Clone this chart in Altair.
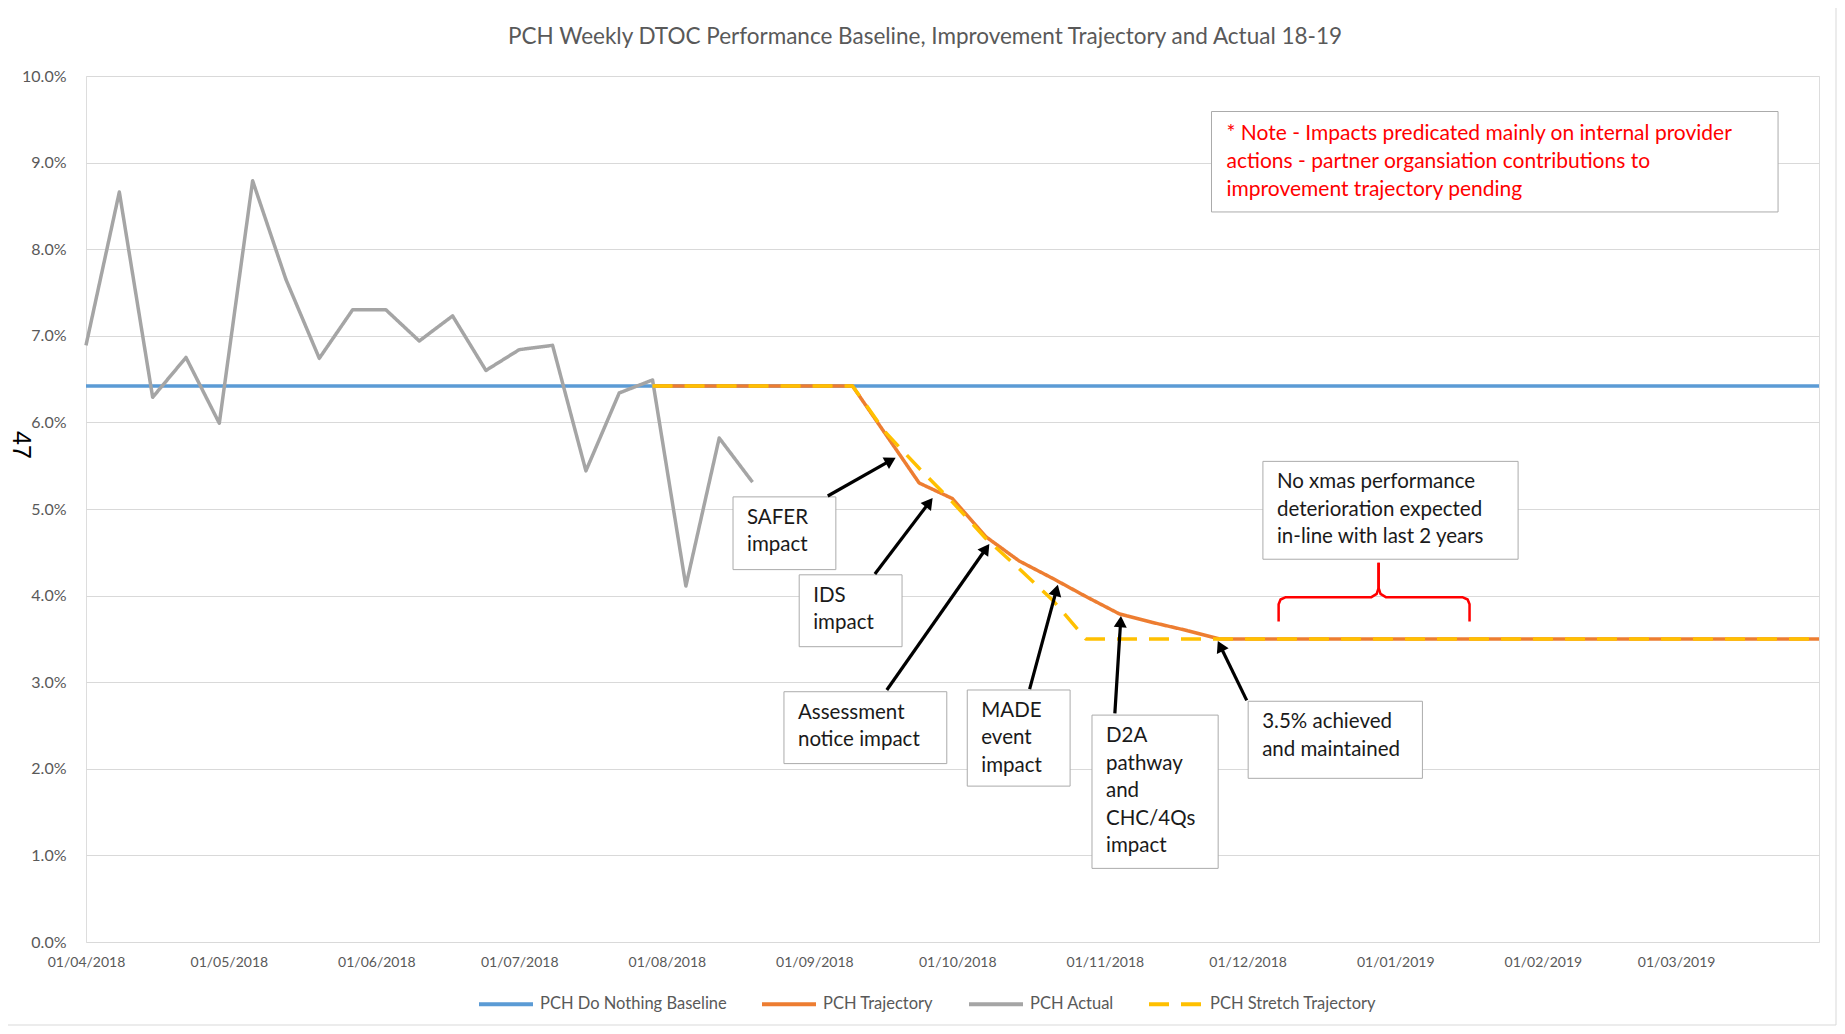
import math
import altair as alt
import pandas as pd

# ---------------- data ----------------
START = pd.Timestamp("2018-04-01")
W, H = 1733, 866            # plot area
DAYS_SPAN = 364             # 01/04/2018 .. 31/03/2019

series_names = ["PCH Do Nothing Baseline", "PCH Trajectory", "PCH Actual", "PCH Stretch Trajectory"]
series_colors = ["#5B9BD5", "#ED7D31", "#A5A5A5", "#FFC000"]
series_dash = [[1, 0], [1, 0], [1, 0], [20, 12]]

baseline_weeks = list(range(0, 53))
baseline_values = [6.42, 6.42, 6.42, 6.42, 6.42, 6.42, 6.42, 6.42, 6.42, 6.42,
                   6.42, 6.42, 6.42, 6.42, 6.42, 6.42, 6.42, 6.42, 6.42, 6.42,
                   6.42, 6.42, 6.42, 6.42, 6.42, 6.42, 6.42, 6.42, 6.42, 6.42,
                   6.42, 6.42, 6.42, 6.42, 6.42, 6.42, 6.42, 6.42, 6.42, 6.42,
                   6.42, 6.42, 6.42, 6.42, 6.42, 6.42, 6.42, 6.42, 6.42, 6.42,
                   6.42, 6.42, 6.42]

actual_weeks = list(range(0, 21))
actual_values = [6.89, 8.66, 6.29, 6.75, 5.99, 8.79, 7.65, 6.74, 7.30, 7.30,
                 6.94, 7.23, 6.60, 6.84, 6.89, 5.44, 6.34, 6.49, 4.11, 5.82, 5.31]

trajectory_weeks = list(range(17, 53))
trajectory_values = [6.42, 6.42, 6.42, 6.42, 6.42, 6.42, 6.42,
                     5.86, 5.30, 5.12, 4.68, 4.40, 4.20, 3.99, 3.79, 3.69, 3.60,
                     3.50, 3.50, 3.50, 3.50, 3.50, 3.50, 3.50, 3.50, 3.50, 3.50,
                     3.50, 3.50, 3.50, 3.50, 3.50, 3.50, 3.50, 3.50, 3.50]

stretch_weeks = list(range(17, 53))
stretch_values = [6.42, 6.42, 6.42, 6.42, 6.42, 6.42, 6.42,
                  5.88, 5.47, 5.08, 4.66, 4.31, 3.95, 3.50,
                  3.50, 3.50, 3.50, 3.50, 3.50, 3.50, 3.50, 3.50, 3.50, 3.50,
                  3.50, 3.50, 3.50, 3.50, 3.50, 3.50, 3.50, 3.50, 3.50, 3.50,
                  3.50, 3.50]

tick_months = [(2018, 4), (2018, 5), (2018, 6), (2018, 7), (2018, 8), (2018, 9),
               (2018, 10), (2018, 11), (2018, 12), (2019, 1), (2019, 2), (2019, 3)]

# annotation boxes (day offset from 01/04/2018, value in %)
box_texts = ["SAFER\nimpact", "IDS\nimpact", "Assessment\nnotice  impact",
             "MADE\nevent\nimpact", "D2A\npathway\nand\nCHC/4Qs\nimpact",
             "3.5% achieved\nand maintained",
             "No xmas performance\ndeterioration expected\nin-line with last 2 years"]
box_left = [135.9, 149.8, 146.6, 185.1, 211.3, 244.1, 247.2]
box_right = [157.5, 171.4, 180.8, 206.7, 237.8, 280.7, 300.8]
box_top = [5.14, 4.24, 2.89, 2.91, 2.62, 2.78, 5.55]
box_bottom = [4.30, 3.41, 2.06, 1.80, 0.85, 1.89, 4.42]

note_text = ["* Note - Impacts predicated mainly on internal provider\nactions - partner organsiation contributions to\nimprovement trajectory pending"]
note_left = [236.4]
note_right = [355.4]
note_top = [9.59]
note_bottom = [8.43]

arrow_start_day = [155.8, 165.7, 168.2, 198.2, 216.1, 243.8]
arrow_start_val = [5.15, 4.25, 2.91, 2.92, 2.64, 2.79]
arrow_tip_day = [170.3, 178.0, 189.9, 204.2, 217.4, 237.6]
arrow_tip_val = [5.60, 5.14, 4.61, 4.14, 3.78, 3.49]

brace_part = ["L"] * 8 + ["R"] * 8
brace_day = [250.5, 250.5, 250.9, 251.9, 269.9, 271.1, 271.5, 271.5,
             271.5, 271.5, 271.9, 273.1, 289.2, 290.2, 290.6, 290.6]
brace_val = [3.70, 3.90, 3.955, 3.98, 3.98, 4.02, 4.09, 4.38,
             4.38, 4.09, 4.02, 3.98, 3.98, 3.955, 3.90, 3.70]

TITLE = "PCH Weekly DTOC Performance Baseline, Improvement Trajectory and Actual 18-19"

FONT = "Lato"
GREY_TEXT = "#595959"

# ---------------- helpers ----------------
def day_to_ts(d):
    return START + pd.to_timedelta(d, unit="D")


def week_to_ts(w):
    return START + pd.Timedelta(days=7 * w)


rows = []
for name, weeks, vals in [(series_names[0], baseline_weeks, baseline_values),
                          (series_names[1], trajectory_weeks, trajectory_values),
                          (series_names[2], actual_weeks, actual_values),
                          (series_names[3], stretch_weeks, stretch_values)]:
    for w, v in zip(weeks, vals):
        rows.append({"date": week_to_ts(w), "value": v, "series": name})
lines_df = pd.DataFrame(rows)

X_SCALE = alt.Scale(domain=[alt.DateTime(year=2018, month=4, date=1),
                            alt.DateTime(year=2019, month=3, date=31)])
Y_SCALE = alt.Scale(domain=[0, 10], nice=False, zero=False)

X_AXIS = alt.Axis(values=[alt.DateTime(year=y, month=m, date=1) for y, m in tick_months],
                  format="%d/%m/%Y", grid=False, ticks=False, domain=False,
                  labelAngle=0, labelFlush=False, labelOverlap=False,
                  labelFont=FONT, labelFontSize=14, labelColor=GREY_TEXT,
                  labelPadding=13, title=None)
Y_AXIS = alt.Axis(values=list(range(0, 11)),
                  labelExpr="format(datum.value, '.1f') + '%'",
                  grid=True, gridColor="#D9D9D9", gridWidth=1,
                  ticks=False, domain=False, labelFont=FONT, labelFontSize=16,
                  labelColor=GREY_TEXT, labelPadding=20, title=None)


def xenc(field):
    return alt.X(field, type="temporal", scale=X_SCALE, axis=X_AXIS, title=None)


def yenc(field):
    return alt.Y(field, type="quantitative", scale=Y_SCALE, axis=Y_AXIS, title=None)


LEGEND = alt.Legend(orient="none", legendX=391, legendY=899, direction="horizontal",
                    title=None, symbolType="stroke", symbolSize=2916,
                    symbolStrokeWidth=4, labelFont=FONT, labelFontSize=16.5,
                    labelColor=GREY_TEXT, labelOffset=5, columnPadding=27,
                    labelLimit=400)

color_enc = alt.Color("series:N", scale=alt.Scale(domain=series_names, range=series_colors),
                      legend=LEGEND)
dash_enc = alt.StrokeDash("series:N", scale=alt.Scale(domain=series_names, range=series_dash),
                          legend=LEGEND)


def series_layer(name):
    return (alt.Chart(lines_df)
            .transform_filter(alt.datum.series == name)
            .mark_line(strokeWidth=3.5, strokeJoin="round", strokeCap="butt")
            .encode(x=xenc("date"), y=yenc("value"), color=color_enc, strokeDash=dash_enc))


# boxes
boxes_df = pd.DataFrame({"text": box_texts,
                         "x1": [day_to_ts(d) for d in box_left],
                         "x2": [day_to_ts(d) for d in box_right],
                         "y1": box_top, "y2": box_bottom})
note_df = pd.DataFrame({"text": note_text,
                        "x1": [day_to_ts(d) for d in note_left],
                        "x2": [day_to_ts(d) for d in note_right],
                        "y1": note_top, "y2": note_bottom})

boxes = alt.Chart(boxes_df).mark_rect(fill="white", stroke="#ABABAB", strokeWidth=1).encode(
    x=xenc("x1"), x2="x2", y=yenc("y1"), y2="y2")
box_text = alt.Chart(boxes_df).mark_text(align="left", baseline="top", dx=14, dy=11,
                                         lineBreak="\n", lineHeight=27.5, font=FONT,
                                         fontSize=20.5, color="#1A1A1A").encode(
    x=xenc("x1"), y=yenc("y1"), text="text:N")

note_box = alt.Chart(note_df).mark_rect(fill="white", stroke="#ABABAB", strokeWidth=1).encode(
    x=xenc("x1"), x2="x2", y=yenc("y1"), y2="y2")
note_txt = alt.Chart(note_df).mark_text(align="left", baseline="top", dx=15, dy=11,
                                        lineBreak="\n", lineHeight=28, font=FONT,
                                        fontSize=21, color="#FF0000").encode(
    x=xenc("x1"), y=yenc("y1"), text="text:N")

# arrows
PX_DAY = W / DAYS_SPAN
PX_PCT = H / 10.0
HEAD_BACK = 7.0
arows = []
for sd, sv, td, tv in zip(arrow_start_day, arrow_start_val, arrow_tip_day, arrow_tip_val):
    dxp = (td - sd) * PX_DAY
    dyp = -(tv - sv) * PX_PCT
    L = math.hypot(dxp, dyp)
    ux, uy = dxp / L, dyp / L
    ang = math.degrees(math.atan2(ux, -uy)) % 360
    hd = td - HEAD_BACK * ux / PX_DAY
    hv = tv + HEAD_BACK * uy / PX_PCT
    arows.append({"sx": day_to_ts(sd), "sy": sv, "hx": day_to_ts(hd), "hy": hv, "angle": ang})
arrow_df = pd.DataFrame(arows)

shafts = alt.Chart(arrow_df).mark_rule(strokeWidth=3.2, color="black").encode(
    x=xenc("sx"), x2="hx", y=yenc("sy"), y2="hy")
heads = alt.Chart(arrow_df).mark_point(shape="triangle-up", filled=True, size=170,
                                       color="black", opacity=1).encode(
    x=xenc("hx"), y=yenc("hy"), angle=alt.Angle("angle:Q", scale=None))

# brace
brace_df = pd.DataFrame({"part": brace_part, "idx": list(range(len(brace_part))),
                         "x": [day_to_ts(d) for d in brace_day], "y": brace_val})
brace = alt.Chart(brace_df).mark_line(color="#FF0000", strokeWidth=2.5, strokeJoin="round").encode(
    x=xenc("x"), y=yenc("y"), detail="part:N", order="idx:Q")

one = pd.DataFrame({"k": [0]})
border = alt.Chart(one).mark_rect(fillOpacity=0, stroke="#D9D9D9", strokeWidth=1).encode(
    x=alt.value(-79), x2=alt.value(1750), y=alt.value(-71), y2=alt.value(949))
page_no = alt.Chart(one).mark_text(text="47", angle=90, font="Liberation Sans", fontSize=25,
                                   color="black", align="center", baseline="middle").encode(
    x=alt.value(-65), y=alt.value(369))
title_mark = alt.Chart(one).mark_text(text=TITLE, font=FONT, fontSize=22.5, color=GREY_TEXT,
                                      align="center", baseline="middle").encode(
    x=alt.value(839), y=alt.value(-39))

chart = alt.layer(
    border,
    series_layer(series_names[0]),
    series_layer(series_names[1]),
    series_layer(series_names[2]),
    series_layer(series_names[3]),
    boxes, box_text, note_box, note_txt, shafts, heads, brace, page_no, title_mark,
).properties(
    width=W, height=H,
    autosize=alt.AutoSizeParams(type="none"),
    padding={"left": 78, "top": 68, "right": 18, "bottom": 84},
).configure_view(stroke=None).configure(background="white")

chart.save("out.html", embed_options={"renderer": "svg", "actions": False})
